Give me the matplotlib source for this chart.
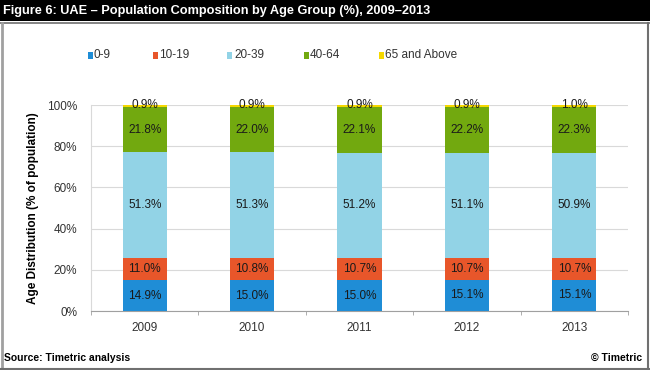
import numpy as np
import matplotlib
matplotlib.use("Agg")
import matplotlib.pyplot as plt
from matplotlib.patches import Rectangle
from matplotlib.lines import Line2D

plt.rcParams['font.family'] = ['Liberation Sans', 'DejaVu Sans']

years = ["2009", "2010", "2011", "2012", "2013"]
groups = ["0-9", "10-19", "20-39", "40-64", "65 and Above"]
age_0_9 = [14.9, 15.0, 15.0, 15.1, 15.1]
age_10_19 = [11.0, 10.8, 10.7, 10.7, 10.7]
age_20_39 = [51.3, 51.3, 51.2, 51.1, 50.9]
age_40_64 = [21.8, 22.0, 22.1, 22.2, 22.3]
age_65_up = [0.9, 0.9, 0.9, 0.9, 1.0]
colors = ["#1f8dd6", "#e8562a", "#92d3e6", "#72a90f", "#f5d800"]

series = [age_0_9, age_10_19, age_20_39, age_40_64, age_65_up]

W, H = 650, 370
fig = plt.figure(figsize=(W / 100, H / 100), dpi=100)

# title bar
fig.add_artist(Rectangle((0, 1 - 21 / H), 1, 21 / H, transform=fig.transFigure,
                         facecolor="black", edgecolor="none"))
fig.text(3 / W, 1 - 11 / H, "Figure 6: UAE \u2013 Population Composition by Age Group (%), 2009\u20132013",
         color="white", fontsize=9.2, fontweight="bold", va="center", ha="left")
# frame
fig.add_artist(Line2D([0, 1], [1 - 22.5 / H] * 2, transform=fig.transFigure, color="#707070", lw=1.2))
fig.add_artist(Line2D([1.5 / W, 1.5 / W], [1.5 / H, 1 - 22.5 / H], transform=fig.transFigure, color="#a0a0a0", lw=2))
fig.add_artist(Line2D([1 - 2 / W, 1 - 2 / W], [1.5 / H, 1 - 22.5 / H], transform=fig.transFigure, color="#707070", lw=1.5))
fig.add_artist(Line2D([0, 1], [1.5 / H, 1.5 / H], transform=fig.transFigure, color="#707070", lw=1.5))

ax = fig.add_axes([91 / W, 1 - 311 / H, 537 / W, 206 / H])
x = np.arange(len(years))
bottom = np.zeros(len(years))
for vals, col, name in zip(series, colors, groups):
    vals = np.array(vals)
    ax.bar(x, vals, 0.41, bottom=bottom, color=col, label=name, zorder=3)
    for xi, b, v in zip(x, bottom, vals):
        yc = b + v / 2 if v > 3 else 100
        ax.text(xi, yc, f"{v:.1f}%", ha="center", va="center", fontsize=8.5, color="#1a1a1a", zorder=4)
    bottom += vals

ax.set_xlim(-0.5, len(years) - 0.5)
ax.set_ylim(0, 100)
ax.set_yticks(np.arange(0, 101, 20))
ax.set_yticklabels([f"{v}%" for v in range(0, 101, 20)])
ax.set_xticks(x)
ax.set_xticklabels(years)
ax.set_xticks(np.arange(-0.5, len(years)), minor=True)
ax.tick_params(axis="x", which="major", length=0, labelsize=8.5, pad=8, labelcolor="#333333")
ax.tick_params(axis="x", which="minor", length=3, color="#a0a0a0")
ax.tick_params(axis="y", length=0, labelsize=8.5, pad=10, labelcolor="#333333")
ax.grid(axis="y", color="#d9d9d9", lw=0.8, zorder=0)
for s in ["top", "right"]:
    ax.spines[s].set_visible(False)
ax.spines["left"].set_color("#d9d9d9")
ax.spines["bottom"].set_color("#a0a0a0")
ax.set_ylabel("Age Distribution (% of population)", fontsize=8.5, fontweight="bold", labelpad=6)

leg_x = [90, 155, 230, 306, 381]
for lx, col, name in zip(leg_x, colors, groups):
    fig.add_artist(Rectangle(((lx - 2.5) / W, 1 - 59 / H), 5 / W, 7 / H, transform=fig.transFigure,
                             facecolor=col, edgecolor="none"))
    fig.text((lx + 4) / W, 1 - 55 / H, name, fontsize=8.5, va="center", ha="left", color="#333333")

fig.text(4 / W, 1 - 358 / H, "Source: Timetric analysis", fontsize=7.5, fontweight="bold", va="center")
fig.text(1 - 8 / W, 1 - 358 / H, "\u00a9 Timetric", fontsize=7.5, fontweight="bold", va="center", ha="right")

fig.savefig("out.png", dpi=100)
